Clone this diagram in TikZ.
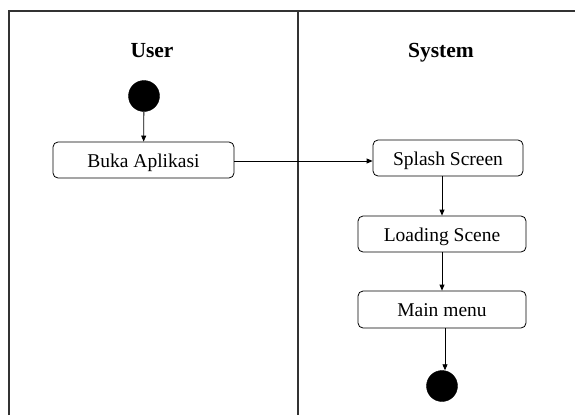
\documentclass[tikz,border=0pt]{standalone}
\usepackage{fontspec}
\setmainfont{Liberation Serif}
\usetikzlibrary{arrows.meta}
\begin{document}
\begin{tikzpicture}[x=1pt,y=-1pt,
  lane/.style={line width=1.2pt, draw=black!80},
  activity/.style={draw, rounded corners=5pt, line width=0.8pt, minimum height=36pt,
    inner sep=0pt, text height=14pt, text depth=0pt, font=\fontsize{19.5}{22}\selectfont},
  heading/.style={font=\fontsize{21.5}{24}\selectfont\bfseries, anchor=base},
  blob/.style={circle, fill=black, draw=black, minimum size=31pt, inner sep=0pt},
  flow/.style={line width=0.8pt, -{Triangle[length=6pt,width=5pt]}}]
  \useasboundingbox (0,0) rectangle (575,415);

  % swimlane frame
  \coordinate (tl) at (9,11);
  \coordinate (tr) at (575,11);
  \coordinate (bl) at (9,415);
  \coordinate (mt) at (298,11);
  \coordinate (mb) at (298,415);
  \draw[lane] (bl) -- (tl) -- (tr);
  \draw[lane] (mt) -- (mb);

  % lane titles
  \node[heading] (user) at (152,57) {User};
  \node[heading] (system) at (441,57) {System};

  % activities
  \node[blob] (start) at (144,96) {};
  \node[activity, minimum width=181pt] (buka) at (143.5,160) {Buka Aplikasi};
  \node[activity, minimum width=150pt] (splash) at (448,158) {Splash Screen};
  \node[activity, minimum width=168pt] (loading) at (442,234) {Loading Scene};
  \node[activity, minimum width=168pt, minimum height=37pt] (main) at (442,309.5) {Main menu};
  \node[blob] (end) at (442,386) {};

  % control flow
  \draw[flow] (start) -- (buka);
  \draw[flow] ([yshift=-1pt]buka.east) -- ([yshift=-1pt]buka.east -| splash.west);
  \draw[flow] (loading.north |- splash.south) -- (loading.north);
  \draw[flow] (loading) -- (main);
  \draw[flow] ([xshift=3pt]main.south) -- ([xshift=3pt]main.south |- end.north);
\end{tikzpicture}
\end{document}
